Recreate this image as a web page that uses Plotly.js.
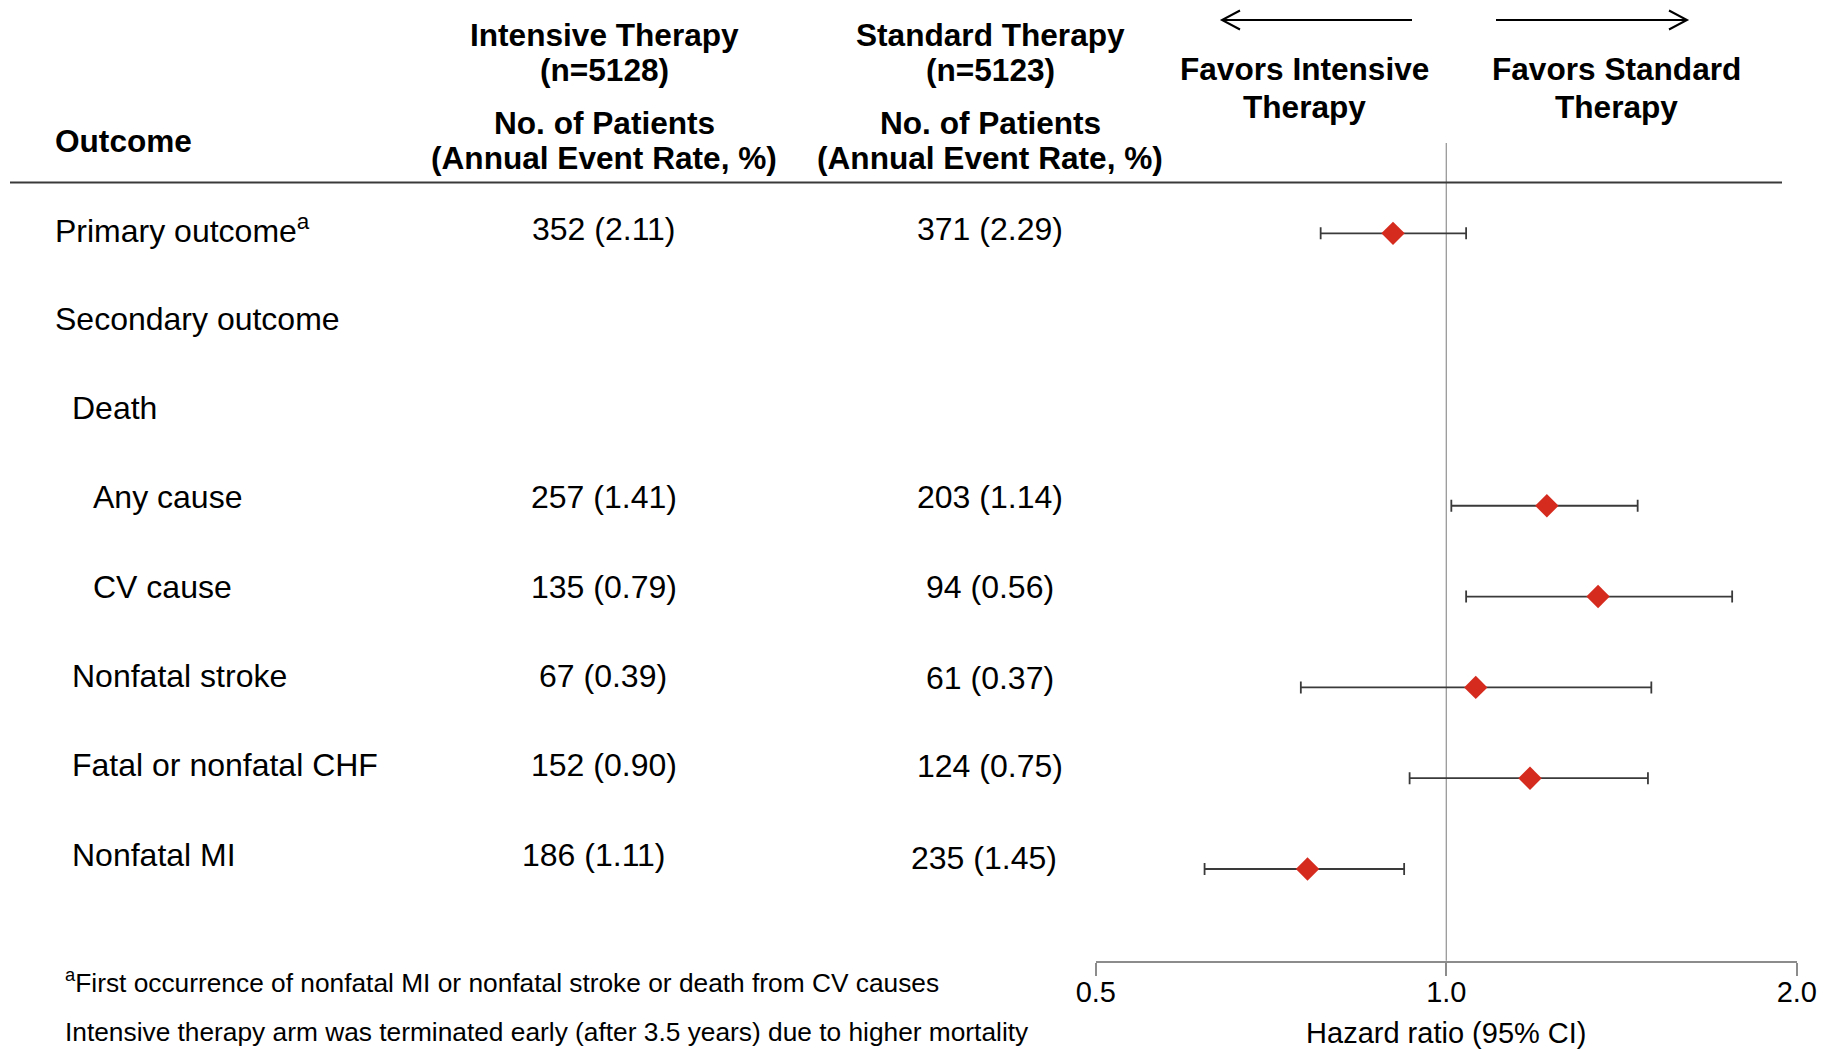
<!DOCTYPE html>
<html>
<head>
<meta charset="utf-8">
<script src="https://cdn.plot.ly/plotly-3.0.1.min.js"></script>
<style>html,body{margin:0;padding:0;background:#fff;}#chart{width:1826px;height:1049px;}</style>
</head>
<body>
<div id="chart"></div>
<script>
// ---------------- data ----------------
const outcomes = ['Primary outcome<sup>a</sup>', 'Secondary outcome', 'Death', 'Any cause', 'CV cause',
  'Nonfatal stroke', 'Fatal or nonfatal CHF', 'Nonfatal MI'];
const intensiveN    = [352, null, null, 257, 135, 67, 152, 186];
const intensiveRate = [2.11, null, null, 1.41, 0.79, 0.39, 0.90, 1.11];
const standardN     = [371, null, null, 203, 94, 61, 124, 235];
const standardRate  = [2.29, null, null, 1.14, 0.56, 0.37, 0.75, 1.45];
const hazardRatio   = [0.90, null, null, 1.22, 1.35, 1.06, 1.18, 0.76];
const ciLower       = [0.78, null, null, 1.01, 1.04, 0.75, 0.93, 0.62];
const ciUpper       = [1.04, null, null, 1.46, 1.76, 1.50, 1.49, 0.92];
const tickValues    = [0.5, 1, 2];
const tickLabels    = ['0.5', '1.0', '2.0'];
const intensiveHeader = ['Intensive Therapy', '(n=5128)'];
const standardHeader  = ['Standard Therapy', '(n=5123)'];
const colSubHeader    = ['No. of Patients', '(Annual Event Rate, %)'];
const favorsLeft  = ['Favors Intensive', 'Therapy'];
const favorsRight = ['Favors Standard', 'Therapy'];
const footnotes = ['<sup>a</sup>First occurrence of nonfatal MI or nonfatal stroke or death from CV causes',
  'Intensive therapy arm was terminated early (after 3.5 years) due to higher mortality'];

// ---------------- layout helpers ----------------
const W = 1826, H = 1049;
const FONT = 'Liberation Sans, Arial, Helvetica, sans-serif';
const px = x => x / W;
const py = y => 1 - y / H;
const rowIndentPx = [53, 53, 70, 91, 91, 70, 70, 70];
const rowTextTop = 229.4, rowTextStep = 89.3;
const col1X = 604, col2X = 990;
// small per-row placement nudges seen in the original layout
const col1Nudge = [0, 0, 0, 0, 0, -1, 0, -10];
const col2Nudge = [0, 0, 0, 0, 0, 0, 0, -6];
const col2NudgeY = [0, 0, 0, 0, 0, 2, 1, 3];

const rows = outcomes.map((_, i) => i);
const fmt = (n, r) => n === null ? '' : n + ' (' + r.toFixed(2) + ')';

const annotations = [];
function txt(text, x, y, opts) {
  annotations.push(Object.assign({
    text: text, xref: 'paper', yref: 'paper', x: px(x), y: py(y),
    xanchor: 'center', yanchor: 'middle', showarrow: false,
    font: {family: FONT, size: 32, color: '#000'}
  }, opts || {}));
}
const BF = {family: FONT, size: 31.6, color: '#000'};
const bt = (s, x, y, o) => txt('<b>' + s + '</b>', x, y, Object.assign({font: BF}, o || {}));

// headers
bt('Outcome', 53, 141, {xanchor: 'left'});
bt(intensiveHeader[0], col1X, 35);
bt(intensiveHeader[1], col1X, 70);
bt(colSubHeader[0], col1X, 123.4);
bt(colSubHeader[1], col1X, 158.4);
bt(standardHeader[0], col2X, 35);
bt(standardHeader[1], col2X, 70);
bt(colSubHeader[0], col2X, 123.4);
bt(colSubHeader[1], col2X, 158.4);
bt(favorsLeft[0], 1304, 68.7);
bt(favorsLeft[1], 1304, 107);
bt(favorsRight[0], 1616, 68.7);
bt(favorsRight[1], 1616, 107);

// table rows
rows.forEach(i => {
  const y = rowTextTop + rowTextStep * i;
  txt(outcomes[i], rowIndentPx[i], y, {xanchor: 'left'});
  const a = fmt(intensiveN[i], intensiveRate[i]);
  const b = fmt(standardN[i], standardRate[i]);
  if (a) txt(a, col1X + col1Nudge[i], y);
  if (b) txt(b, col2X + col2Nudge[i], y + col2NudgeY[i]);
});

// footnotes
const FF = {family: FONT, size: 26.3, color: '#000'};
txt(footnotes[0], 63, 980.5, {xanchor: 'left', font: FF});
txt(footnotes[1], 63, 1031.7, {xanchor: 'left', font: FF});

// shapes
const P = (x, y) => px(x) + ',' + py(y);
const shapes = [
  {type: 'line', xref: 'paper', yref: 'paper', x0: px(10), x1: px(1782), y0: py(182.5), y1: py(182.5),
   line: {color: '#3a3a3a', width: 2}},
  {type: 'line', xref: 'x', yref: 'y domain', x0: 1, x1: 1, y0: 0, y1: 1,
   line: {color: '#999999', width: 1.3}, layer: 'below'},
  {type: 'path', xref: 'paper', yref: 'paper',
   path: 'M' + P(1412, 20) + 'L' + P(1222, 20) + 'M' + P(1240, 10.5) + 'L' + P(1222, 20) + 'L' + P(1240, 29.5),
   line: {color: '#000', width: 2}},
  {type: 'path', xref: 'paper', yref: 'paper',
   path: 'M' + P(1496, 20) + 'L' + P(1687, 20) + 'M' + P(1669, 10.5) + 'L' + P(1687, 20) + 'L' + P(1669, 29.5),
   line: {color: '#000', width: 2}}
];

// forest trace
const trace = {
  type: 'scatter', mode: 'markers',
  x: hazardRatio, y: rows,
  marker: {symbol: 'diamond', size: 18, color: '#d52b1e', line: {width: 0}},
  error_x: {
    type: 'data', symmetric: false,
    array: hazardRatio.map((v, i) => v === null ? null : ciUpper[i] - v),
    arrayminus: hazardRatio.map((v, i) => v === null ? null : v - ciLower[i]),
    color: '#3a3a3a', thickness: 1.8, width: 6
  },
  hoverinfo: 'x', showlegend: false
};

const layout = {
  width: W, height: H,
  margin: {l: 0, r: 0, t: 0, b: 0},
  paper_bgcolor: '#fff', plot_bgcolor: 'rgba(0,0,0,0)',
  showlegend: false,
  font: {family: FONT, color: '#000'},
  xaxis: {
    type: 'log', range: [Math.log10(0.5), Math.log10(2)],
    domain: [1095.8 / W, 1796.8 / W],
    tickvals: tickValues, ticktext: tickLabels,
    showline: true, linecolor: '#8c8c8c', linewidth: 2,
    ticks: 'outside', ticklen: 13, tickwidth: 2, tickcolor: '#8c8c8c',
    ticklabelstandoff: -9,
    showgrid: false, zeroline: false,
    tickfont: {family: FONT, size: 29, color: '#000'},
    title: {text: 'Hazard ratio (95% CI)', font: {family: FONT, size: 29, color: '#000'}, standoff: 17},
    fixedrange: true
  },
  yaxis: {
    range: [8.01, -0.995], domain: [1 - 960.7 / H, 1 - 143 / H],
    visible: false, showgrid: false, zeroline: false, fixedrange: true
  },
  annotations: annotations,
  shapes: shapes
};

Plotly.newPlot('chart', [trace], layout, {staticPlot: true, displayModeBar: false});
</script>
</body>
</html>
